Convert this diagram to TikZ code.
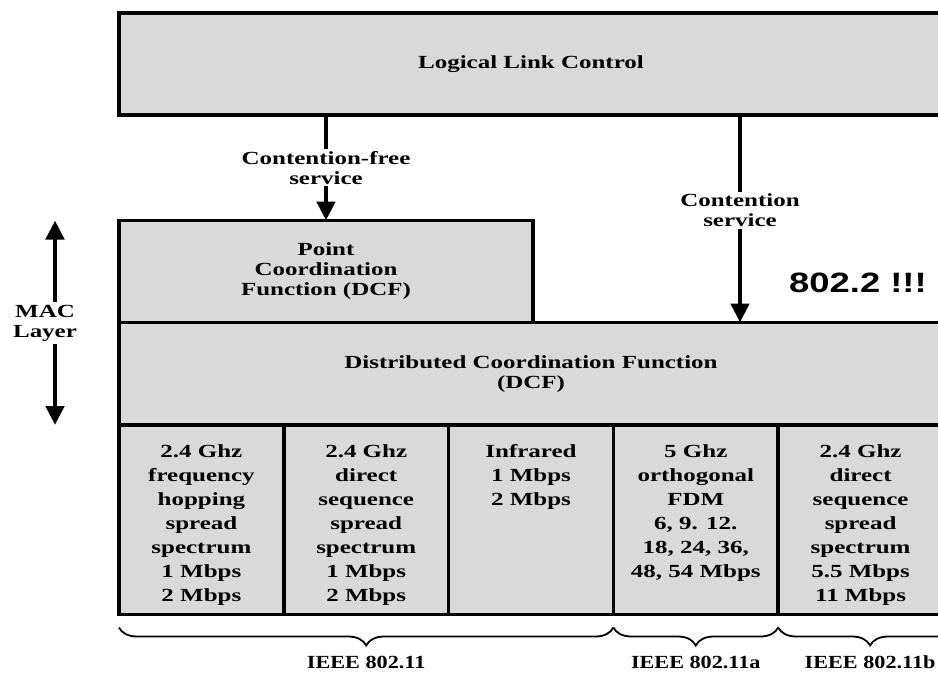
\documentclass[tikz,border=0pt]{standalone}
\usepackage{fontspec}
\setmainfont{Liberation Serif}[FakeStretch=1.35]
\newfontfamily\notefont{Liberation Sans}[FakeStretch=1.3]
\newfontfamily\stdfont{Liberation Serif}[FakeStretch=1.2]
\usepackage{tikz}
\usetikzlibrary{arrows.meta,positioning,decorations.pathreplacing}

\definecolor{boxgray}{RGB}{217,217,217}

\tikzset{
    layerbox/.style={draw, line width=3.5pt, fill=boxgray, inner sep=0pt, outer sep=0pt,
        anchor=north west, align=center, font=\bfseries\fontsize{18.5}{20}\selectfont},
    cellbox/.style={layerbox, minimum width=164.8pt, minimum height=189.5pt,
        font=\bfseries\fontsize{18.5}{24}\selectfont},
    svcarrow/.style={-{Triangle[width=18pt,length=19pt]}, line width=4.5pt},
    svclabel/.style={fill=white, align=center, inner sep=2pt,
        font=\bfseries\fontsize{18.5}{20}\selectfont},
    stdbrace/.style={decorate, decoration={brace, amplitude=18pt}, line width=1.8pt},
    stdlabel/.style={midway, below=24pt, font=\stdfont\bfseries\fontsize{18.5}{20}\selectfont},
}

\begin{document}
\begin{tikzpicture}[x=1pt,y=1pt]
    \useasboundingbox (0,0) rectangle (938,-681);
    \clip (0,0) rectangle (938,-681);

    % Upper layer
    \node[layerbox, minimum width=824pt, minimum height=102pt] (llc) at (119,-13) {Logical Link Control};

    % MAC sublayers
    \node[layerbox, minimum width=414pt, minimum height=102pt] (pcf) at (119,-220.5) {Point\\Coordination\\Function (DCF)};
    \node[layerbox, minimum width=824pt, minimum height=102.5pt] (dcf) at (119,-322.5) {Distributed Coordination Function\\(DCF)};

    % Physical layers
    \foreach \i/\txt in {0/{2.4 Ghz\\frequency\\hopping\\spread\\spectrum\\1 Mbps\\2 Mbps},
                         1/{2.4 Ghz\\direct\\sequence\\spread\\spectrum\\1 Mbps\\2 Mbps},
                         2/{Infrared\\1 Mbps\\2 Mbps},
                         3/{5 Ghz\\orthogonal\\FDM\\6, 9. 12.\\18, 24, 36,\\48, 54 Mbps},
                         4/{2.4 Ghz\\direct\\sequence\\spread\\spectrum\\5.5 Mbps\\11 Mbps}} {
        \node[cellbox] (cell\i) at ({119+164.8*\i},-425) {\parbox[c][151pt][t]{158pt}{\centering \txt}};
    }

    % Services
    \coordinate (dcfin) at (740,-322.5);
    \draw[svcarrow] (llc.south -| pcf.north) -- node[svclabel] {Contention-free\\service} (pcf.north);
    \draw[svcarrow] (llc.south -| dcfin) -- node[svclabel, pos=0.46] {Contention\\service} (dcfin);
    \node[font=\notefont\bfseries\fontsize{28}{30}\selectfont] (note) at (858,-283) {802.2 !!!};

    % MAC layer extent
    \node[align=center, font=\bfseries\fontsize{18.5}{20}\selectfont, inner sep=3pt] (mac) at (45,-323) {MAC\\Layer};
    \draw[svcarrow] ([xshift=10pt]mac.north) -- ([xshift=10pt]mac.north |- pcf.north);
    \draw[svcarrow] ([xshift=10pt]mac.south) -- ([xshift=10pt]mac.south |- dcf.south);

    % Standards
    \draw[stdbrace] ([yshift=-13pt]cell2.south east) -- ([yshift=-13pt]cell0.south west)
        node[stdlabel] (std0) {IEEE 802.11};
    \draw[stdbrace] ([yshift=-13pt]cell3.south east) -- ([yshift=-13pt]cell3.south west)
        node[stdlabel] (std1) {IEEE 802.11a};
    \draw[stdbrace] ([xshift=19pt,yshift=-13pt]cell4.south east) -- ([yshift=-13pt]cell4.south west)
        node[stdlabel] (std2) {IEEE 802.11b};
\end{tikzpicture}
\end{document}
